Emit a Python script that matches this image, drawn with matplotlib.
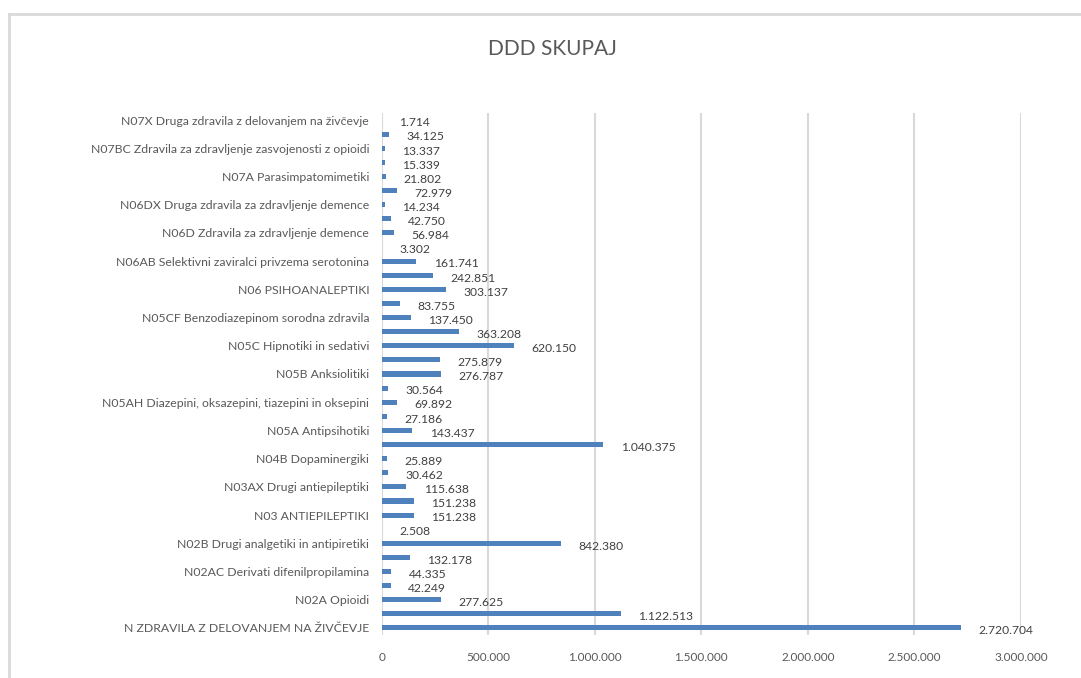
import matplotlib
matplotlib.use("Agg")
import matplotlib.pyplot as plt
from matplotlib.lines import Line2D

# Categories from bottom to top
categories = [
    "N ZDRAVILA Z DELOVANJEM NA ŽIVČEVJE",
    "N02 ANALGETIKI",
    "N02A Opioidi",
    "N02AB Derivati fenilpiperidina",
    "N02AC Derivati difenilpropilamina",
    "N02AX Drugi opioidi",
    "N02B Drugi analgetiki in antipiretiki",
    "N02C Zdravila za zdravljenje migrene",
    "N03 ANTIEPILEPTIKI",
    "N03A Antiepileptiki",
    "N03AX Drugi antiepileptiki",
    "N04 ANTIPARKINSONIKI",
    "N04B Dopaminergiki",
    "N05 PSIHOLEPTIKI",
    "N05A Antipsihotiki",
    "N05AD Derivati butirofenona",
    "N05AH Diazepini, oksazepini, tiazepini in oksepini",
    "N05AX Drugi antipsihotiki",
    "N05B Anksiolitiki",
    "N05BA Derivati benzodiazepina",
    "N05C Hipnotiki in sedativi",
    "N05CD Derivati benzodiazepina",
    "N05CF Benzodiazepinom sorodna zdravila",
    "N05CH Agonisti melatoninskih receptorjev",
    "N06 PSIHOANALEPTIKI",
    "N06A Antidepresivi",
    "N06AB Selektivni zaviralci privzema serotonina",
    "N06AA Neselektivni zaviralci privzema monoaminov",
    "N06D Zdravila za zdravljenje demence",
    "N06DA Antiholinesteraze",
    "N06DX Druga zdravila za zdravljenje demence",
    "N07 DRUGA ZDRAVILA Z DELOVANJEM NA ŽIVČEVJE",
    "N07A Parasimpatomimetiki",
    "N07B Zdravila za zdravljenje odvisnosti",
    "N07BC Zdravila za zdravljenje zasvojenosti z opioidi",
    "N07C Antivertiginozna zdravila",
    "N07X Druga zdravila z delovanjem na živčevje",
]
values = [
    2720704, 1122513, 277625, 42249, 44335, 132178, 842380, 2508,
    151238, 151238, 115638, 30462, 25889, 1040375, 143437, 27186,
    69892, 30564, 276787, 275879, 620150, 363208, 137450, 83755,
    303137, 242851, 161741, 3302, 56984, 42750, 14234, 72979,
    21802, 15339, 13337, 34125, 1714,
]
x_ticks = [0, 500000, 1000000, 1500000, 2000000, 2500000, 3000000]
title = "DDD SKUPAJ"

FONT = ["Lato", "DejaVu Sans"]
plt.rcParams["font.family"] = FONT

def fmt(v):
    return f"{v:,}".replace(",", ".")

W, H = 1081, 678
fig = plt.figure(figsize=(W / 100, H / 100), dpi=100)
ax = fig.add_axes([381.7 / W, (H - 635) / H, (1021 - 381.7) / W, (635 - 113) / H])

pos = list(range(len(categories)))
ax.barh(pos, values, height=0.36, color="#4f81bd", zorder=3)
ax.set_ylim(-0.5, len(categories) - 0.5)
ax.set_xlim(x_ticks[0], x_ticks[-1])

ax.set_xticks(x_ticks)
ax.set_xticklabels([fmt(t) for t in x_ticks], color="#595959", fontsize=8.5)
ax.set_yticks(pos[::2])
ax.set_yticklabels(categories[::2], color="#595959", fontsize=8.8)
ax.tick_params(axis="both", length=0)
ax.tick_params(axis="y", pad=9)
ax.tick_params(axis="x", pad=12)

ax.grid(axis="x", color="#d9d9d9", linewidth=1.5, zorder=0)
for s in ax.spines.values():
    s.set_visible(False)

for p, v in zip(pos, values):
    ax.annotate(fmt(v), xy=(v, p), xytext=(12.5, -2), textcoords="offset points",
                ha="left", va="center", fontsize=8.7, color="#404040")

fig.text(552 / W, 1 - 49 / H, title, ha="center", va="center", fontsize=15, color="#595959")

# chart border (top and left visible)
fig.add_artist(Line2D([9 / W, 1.0], [1 - 14 / H, 1 - 14 / H], transform=fig.transFigure,
                      color="#d9d9d9", linewidth=2))
fig.add_artist(Line2D([9 / W, 9 / W], [0, 1 - 14 / H], transform=fig.transFigure,
                      color="#d9d9d9", linewidth=2))

fig.savefig("out.png", dpi=100, facecolor="white")
